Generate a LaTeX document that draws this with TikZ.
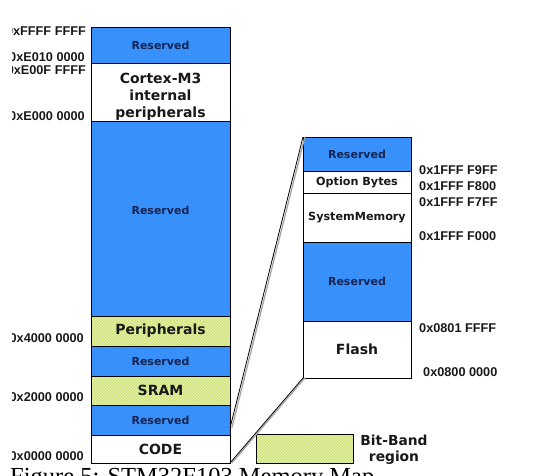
\documentclass[tikz,border=0pt]{standalone}
\usepackage{fontspec}
\setmainfont{DejaVu Sans}
\newfontfamily\labfont{Liberation Sans}
\newfontfamily\capfont{Liberation Serif}
\usetikzlibrary{patterns}
\definecolor{memblue}{RGB}{56,145,250}
\definecolor{bbgreen}{RGB}{208,228,120}
\definecolor{hatchc}{RGB}{238,246,196}
\definecolor{navy}{RGB}{22,36,82}
\definecolor{txt}{RGB}{25,25,25}
\begin{document}
\begin{tikzpicture}[x=1pt,y=-1pt,
  blk/.style={draw=black,line width=1pt,anchor=north west,inner sep=0pt,outer sep=0pt,text=txt},
  bluebox/.style={blk,fill=memblue,text=navy,font=\bfseries\fontsize{11}{13}\selectfont},
  whitebox/.style={blk,fill=white,font=\bfseries\fontsize{14}{17}\selectfont},
  smallwhite/.style={blk,fill=white,font=\bfseries\fontsize{11.2}{13}\selectfont},
  bitband/.style={blk,preaction={fill=bbgreen},pattern=north east lines,pattern color=hatchc,font=\bfseries\fontsize{14}{17}\selectfont},
  lcol/.style={minimum width=139pt},
  rcol/.style={minimum width=108pt},
  addr/.style={inner sep=0pt,text=txt,font=\labfont\bfseries\fontsize{12.7}{14}\selectfont},
  zoomline/.style={draw=black,line width=0.8pt},
  zoomshadow/.style={draw=black!35,line width=1.3pt,transform canvas={xshift=1.8pt}}
]
\clip (0,0) rectangle (538,475);
\fill[white] (0,0) rectangle (538,475);

% left column
\node[bluebox,lcol,minimum height=36pt] (res1) at (91,27) {Reserved};
\node[blk,lcol,fill=white,minimum height=58pt] (cortex) at (91,63) {};
\node[text=txt,align=center,font=\bfseries\fontsize{14}{17}\selectfont,inner sep=0pt] (cortextxt) at (160.5,97) {Cortex-M3\\internal\\peripherals};
\node[bluebox,lcol,minimum height=195pt] (res2) at (91,121) {};
\node[text=navy,font=\bfseries\fontsize{11}{13}\selectfont,inner sep=0pt] (res2txt) at (160.5,210) {Reserved};
\node[bitband,lcol,minimum height=30pt] (periph) at (91,316) {Peripherals};
\node[bluebox,lcol,minimum height=30pt] (res3) at (91,346) {Reserved};
\node[bitband,lcol,minimum height=29pt] (sram) at (91,376) {SRAM};
\node[bluebox,lcol,minimum height=30pt] (res4) at (91,405) {Reserved};
\node[whitebox,lcol,minimum height=28pt] (code) at (91,435) {CODE};

% right column
\node[bluebox,rcol,minimum height=34pt] (rres1) at (303,137) {Reserved};
\node[smallwhite,rcol,minimum height=22pt] (opt) at (303,171) {Option Bytes};
\node[smallwhite,rcol,minimum height=49pt] (sysmem) at (303,193) {SystemMemory};
\node[bluebox,rcol,minimum height=79pt] (rres2) at (303,242) {Reserved};
\node[whitebox,rcol,minimum height=57pt] (flash) at (303,321) {Flash};

% legend
\node[bitband,minimum width=97pt,minimum height=29pt] (legend) at (256,434) {};
\node[text=txt,align=center,font=\bfseries\fontsize{13.8}{16}\selectfont,inner sep=0pt] (legendtxt) at (394,450) {Bit-Band\\region};

% zoom lines
\coordinate (zt) at ([yshift=7pt]res4.south east);
\draw[zoomshadow] (rres1.north west) -- (zt);
\draw[zoomline] (rres1.north west) -- (zt);
\draw[zoomshadow] (flash.south west) -- (code.south east);
\draw[zoomline] (flash.south west) -- (code.south east);

% left addresses (cut at the left edge)
\begin{scope}
\clip (12,0) rectangle (538,475);
\node[addr,anchor=east] (aF) at (86,31) {0xFFFF FFFF};
\node[addr,anchor=east] (aE1) at (85,57) {0xE010 0000};
\node[addr,anchor=east] (aE0F) at (86,70) {0xE00F FFFF};
\node[addr,anchor=east] (aE0) at (85,116) {0xE000 0000};
\node[addr,anchor=east] (a4) at (84,338) {0x4000 0000};
\node[addr,anchor=east] (a2) at (84,397) {0x2000 0000};
\node[addr,anchor=east] (a0) at (84,456) {0x0000 0000};
\end{scope}

% right addresses
\node[addr,anchor=west] (r1) at (419,170) {0x1FFF F9FF};
\node[addr,anchor=west] (r2) at (419,186) {0x1FFF F800};
\node[addr,anchor=west] (r3) at (419,202) {0x1FFF F7FF};
\node[addr,anchor=west] (r4) at (419,236) {0x1FFF F000};
\node[addr,anchor=west] (r5) at (419,328) {0x0801 FFFF};
\node[addr,anchor=west] (r6) at (423,372) {0x0800 0000};

% caption (cut at the bottom, as in the reference)
\node[anchor=north west,inner sep=0pt,text=black,font=\capfont\fontsize{24.5}{28}\selectfont] (caption) at (10,468) {Figure 5: STM32F103 Memory Map};
\end{tikzpicture}
\end{document}
